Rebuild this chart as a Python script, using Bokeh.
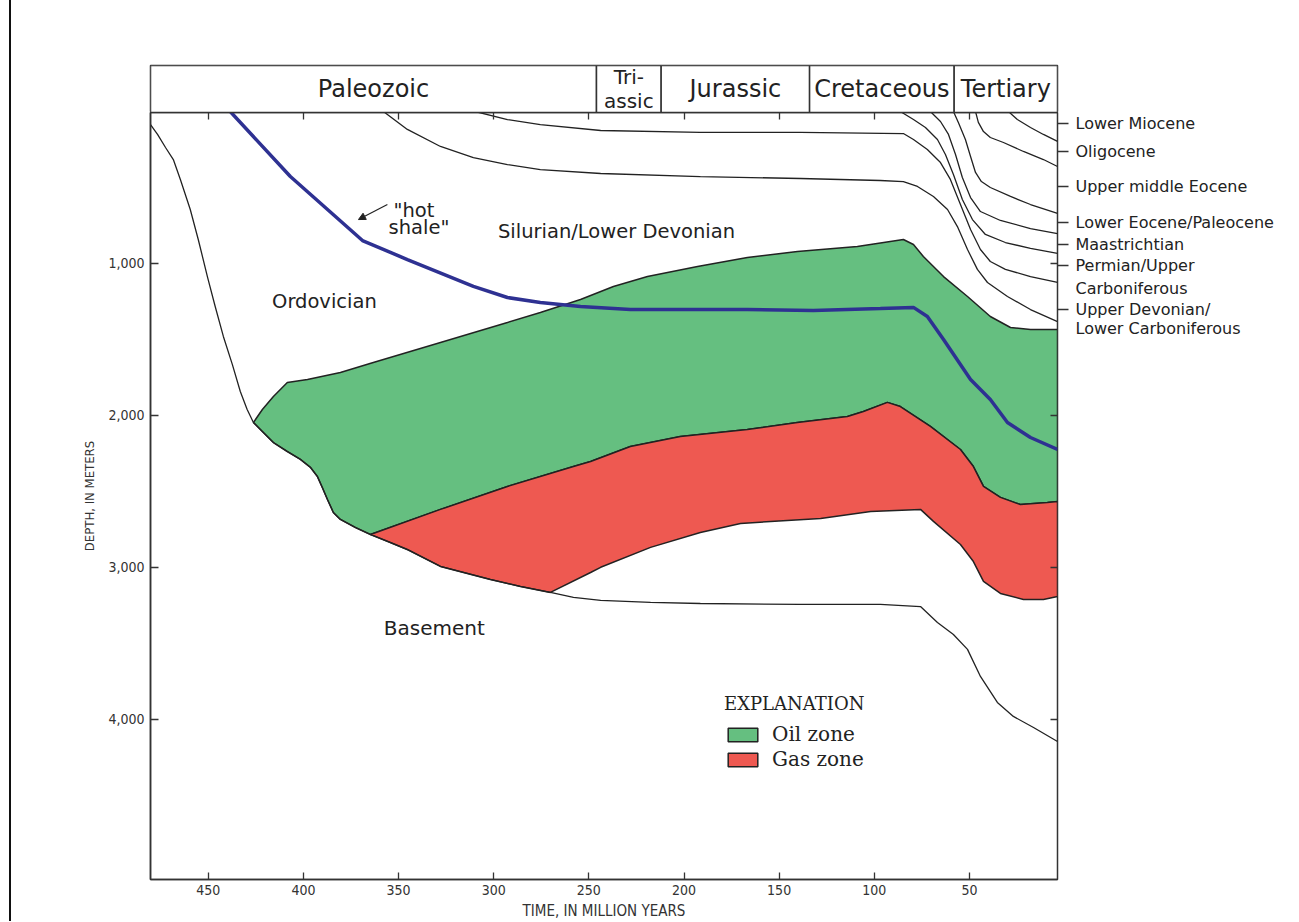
import numpy as np
from bokeh.plotting import figure
from bokeh.models import (Range1d, LinearAxis, FixedTicker, NumeralTickFormatter, Label,
                          Arrow, NormalHead, Legend, LegendItem, Div, CustomJSTickFormatter)
from bokeh.layouts import row, column
from bokeh.embed import file_html
from bokeh.resources import INLINE
from bokeh.core.properties import value

# ---------------- data ----------------
periods = ["Paleozoic", "Tri-\nassic", "Jurassic", "Cretaceous", "Tertiary"]
period_start = [480.4, 246.0, 212.0, 134.0, 58.0]
period_end = [246.0, 212.0, 134.0, 58.0, 3.7]

time_ticks = [450, 400, 350, 300, 250, 200, 150, 100, 50]
depth_ticks = [1000, 2000, 3000, 4000]

horizon_names = ["Lower Miocene", "Oligocene", "Upper middle Eocene", "Lower Eocene/Paleocene",
                 "Maastrichtian", "Permian/Upper", "Upper Devonian/"]
horizon_label_depth = [79, 263, 493, 730, 875, 1013, 1303]
horizon_second_line = ["Carboniferous", "Lower Carboniferous"]
horizon_second_depth = [1164, 1428]

# basement / Ordovician base line, in pieces (time Ma, depth m)
ordovician_base_t = [480.4, 476.7, 472.5, 468.4, 464.7, 459.5, 455.3, 450.5, 446.4, 442.1, 437.4, 433.2, 429.6, 426.3]
ordovician_base_d = [86, 151, 237, 316, 447, 645, 842, 1086, 1283, 1480, 1664, 1842, 1961, 2046]
oil_base_t = [426.3, 421.6, 415.8, 408.5, 401.6, 396.3, 392.7, 390.1, 387.4, 384.3, 380.6, 372.7, 364.8]
oil_base_d = [2046, 2105, 2178, 2237, 2289, 2342, 2401, 2474, 2553, 2638, 2684, 2737, 2783]
gas_base_t = [364.8, 354.3, 345.4, 328.0, 301.8, 286.0, 270.2]
gas_base_d = [2783, 2836, 2882, 2993, 3079, 3125, 3164]
basement_top_t = [270.2, 258.1, 243.8, 217.6, 191.4, 138.8, 96.8, 75.7, 66.8, 58.4, 51.0, 44.2, 35.3, 26.9, 16.3, 3.7]
basement_top_d = [3164, 3197, 3217, 3230, 3237, 3243, 3243, 3257, 3362, 3441, 3539, 3717, 3888, 3980, 4053, 4145]

# top of oil zone
oil_top_t = [426.3, 421.6, 415.8, 408.5, 397.9, 380.6, 363.3, 328.0, 292.8, 275.5, 254.4, 237.1, 219.2,
             192.9, 166.7, 140.4, 108.9, 84.7, 79.4, 74.2, 63.6, 51.0, 39.0, 28.4, 17.9, 3.7]
oil_top_d = [2046, 1961, 1875, 1783, 1763, 1717, 1651, 1520, 1388, 1322, 1237, 1151, 1086,
             1020, 961, 921, 888, 842, 875, 954, 1086, 1217, 1349, 1421, 1434, 1434]
# oil / gas boundary
gas_top_t = [364.8, 328.0, 292.8, 258.1, 249.1, 228.2, 201.9, 166.7, 140.4, 114.1, 105.7, 93.1, 86.3,
             70.5, 54.7, 47.9, 42.6, 33.7, 23.2, 9.0, 3.7]
gas_top_d = [2783, 2618, 2467, 2336, 2303, 2204, 2138, 2092, 2046, 2007, 1974, 1914, 1941,
             2072, 2224, 2336, 2467, 2539, 2586, 2572, 2566]
# bottom of gas zone
gas_bottom_t = [270.2, 249.1, 243.8, 217.6, 191.4, 170.3, 154.5, 128.2, 101.9, 75.7, 68.9, 54.7, 47.9,
                42.6, 33.7, 21.6, 11.1, 3.7]
gas_bottom_d = [3164, 3033, 2999, 2868, 2770, 2711, 2697, 2678, 2632, 2618, 2697, 2849, 2961,
                3092, 3171, 3211, 3211, 3191]

# "hot shale"
hot_shale_t = [438.5, 406.9, 369.0, 345.4, 310.7, 292.8, 275.5, 254.4, 228.2, 166.7, 132.0, 96.8,
               79.4, 72.1, 63.6, 49.4, 39.0, 30.0, 17.9, 3.7]
hot_shale_d = [0, 428, 849, 974, 1151, 1224, 1257, 1283, 1303, 1303, 1309, 1296,
               1289, 1349, 1500, 1763, 1895, 2046, 2145, 2224]

# stratigraphic horizons (thin black lines)
h1_t = [29.5, 24.8, 17.9, 11.1, 3.7]
h1_d = [0, 53, 105, 151, 197]
h2_t = [46.8, 45.3, 42.6, 39.0, 32.1, 21.6, 11.1, 3.7]
h2_d = [0, 72, 132, 171, 204, 263, 316, 362]
h3_t = [58.4, 55.8, 52.1, 49.4, 46.8, 43.7, 39.0, 28.4, 17.9, 3.7]
h3_d = [0, 72, 184, 296, 401, 461, 500, 559, 612, 671]
h4_t = [70.5, 65.2, 61.0, 57.3, 53.7, 49.4, 44.2, 33.7, 17.9, 3.7]
h4_d = [0, 66, 151, 283, 434, 566, 658, 717, 770, 803]
h5_t = [86.3, 79.4, 73.1, 66.8, 62.6, 58.4, 53.7, 48.4, 41.6, 31.1, 17.9, 3.7]
h5_d = [0, 53, 105, 184, 283, 414, 579, 711, 809, 862, 901, 934]
h6_t = [309.7, 292.8, 275.5, 243.8, 191.4, 138.8, 84.7, 79.4, 72.1, 65.2, 60.0, 54.7, 49.4, 44.2, 39.0,
        31.1, 17.9, 3.7]
h6_d = [0, 53, 86, 125, 138, 138, 145, 184, 250, 336, 447, 612, 776, 908, 987, 1039, 1086, 1125]
h7_t = [358.0, 345.4, 328.0, 310.7, 292.8, 275.5, 243.8, 191.4, 138.8, 96.8, 84.7, 77.3, 68.9, 61.5,
        56.3, 51.0, 45.8, 40.5, 30.0, 17.9, 3.7]
h7_d = [0, 118, 230, 303, 349, 382, 408, 428, 441, 454, 461, 493, 559, 645, 757, 908, 1039, 1125,
        1217, 1303, 1382]

# ---------------- styling constants ----------------
INK = "#222222"
AXIS = "#333333"
GREEN = "#65BF80"
RED = "#EE5951"
BLUE = "#2E3192"
SANS = "DejaVu Sans"
NARROW = "DejaVu Sans Condensed, Liberation Sans Narrow, Roboto Condensed, Roboto"
SERIF = "DejaVu Serif"

EDGE_W = 12
LEFT_B = 138
FRAME_W = 907
FRAME_H = 767
RIGHT_B = 12
SIDE_W = 211
BOTTOM_B = 42

x_range = Range1d(480.4, 3.7)
y_range = Range1d(5053, 6.6)

# ---------------- header (geologic periods) ----------------
h = figure(frame_width=FRAME_W, frame_height=47, x_range=x_range, y_range=Range1d(0, 1),
           output_backend="svg", toolbar_location=None,
           x_axis_location=None, y_axis_location=None,
           min_border_left=LEFT_B, min_border_right=RIGHT_B + SIDE_W, min_border_top=65, min_border_bottom=0)
h.grid.visible = False
h.outline_line_color = AXIS
h.outline_line_width = 1.5
h.quad(left=period_start, right=period_end, top=1, bottom=0,
       fill_color="white", line_color=AXIS, line_width=1.5)
mid = [(a + b) / 2 for a, b in zip(period_start, period_end)]
one_line = [i for i, n in enumerate(periods) if "\n" not in n]
two_line = [i for i, n in enumerate(periods) if "\n" in n]
h.text(x=[mid[i] for i in one_line], y=[0.5] * len(one_line), text=[periods[i] for i in one_line],
       text_font=value(SANS), text_font_size="24px", text_color=INK,
       text_align="center", text_baseline="middle")
h.text(x=[mid[i] for i in two_line], y=[0.5] * len(two_line), text=[periods[i] for i in two_line],
       text_font=value(SANS), text_font_size="20px", text_color=INK,
       text_align="center", text_baseline="middle", text_line_height=1.0)

# ---------------- main chart ----------------
p = figure(frame_width=FRAME_W, frame_height=FRAME_H, x_range=x_range, y_range=y_range,
           output_backend="svg", toolbar_location=None,
           x_axis_location=None, y_axis_location=None,
           min_border_left=LEFT_B, min_border_right=RIGHT_B, min_border_top=0, min_border_bottom=BOTTOM_B)
p.grid.visible = False
p.outline_line_color = AXIS
p.outline_line_width = 1.5

# zones
oil_x = np.concatenate([oil_top_t, gas_top_t[::-1], oil_base_t[::-1]])
oil_y = np.concatenate([oil_top_d, gas_top_d[::-1], oil_base_d[::-1]])
gas_x = np.concatenate([gas_top_t, gas_bottom_t[::-1], gas_base_t[::-1]])
gas_y = np.concatenate([gas_top_d, gas_bottom_d[::-1], gas_base_d[::-1]])
oil_r = p.patch(oil_x, oil_y, fill_color=GREEN, line_color=INK, line_width=1.5)
gas_r = p.patch(gas_x, gas_y, fill_color=RED, line_color=INK, line_width=1.5)

# basement line
base_x = ordovician_base_t + oil_base_t[1:] + gas_base_t[1:] + basement_top_t[1:]
base_y = ordovician_base_d + oil_base_d[1:] + gas_base_d[1:] + basement_top_d[1:]
p.line(base_x, base_y, line_color=INK, line_width=1.3)
for tx, dy in [(h1_t, h1_d), (h2_t, h2_d), (h3_t, h3_d), (h4_t, h4_d), (h5_t, h5_d),
               (h6_t, h6_d), (h7_t, h7_d)]:
    p.line(tx, dy, line_color=INK, line_width=1.3)
p.line(hot_shale_t, hot_shale_d, line_color=BLUE, line_width=3.5)

# axes
def style_ticks(ax, tin, tout):
    ax.major_tick_in = tin
    ax.major_tick_out = tout
    ax.minor_tick_line_color = None
    ax.major_tick_line_color = AXIS
    ax.major_tick_line_width = 1.3
    ax.axis_line_color = AXIS
    ax.axis_line_width = 1.5

blank = CustomJSTickFormatter(code="return ''")

xb = LinearAxis(ticker=FixedTicker(ticks=time_ticks), axis_label="TIME, IN MILLION YEARS")
style_ticks(xb, 7, 0)
xb.major_label_text_font = NARROW
xb.major_label_text_font_size = "14px"
xb.major_label_text_color = AXIS
xb.major_label_standoff = 5
xb.axis_label_text_font = NARROW
xb.axis_label_text_font_size = "15px"
xb.axis_label_text_font_style = "normal"
xb.axis_label_text_color = AXIS
xb.axis_label_standoff = 4
p.add_layout(xb, "below")

xt = LinearAxis(ticker=FixedTicker(ticks=time_ticks), formatter=blank)
style_ticks(xt, 7, 0)
xt.major_label_text_font_size = "0px"
xt.major_label_standoff = 0
p.add_layout(xt, "above")

yl = LinearAxis(ticker=FixedTicker(ticks=depth_ticks), formatter=NumeralTickFormatter(format="0,0"),
                axis_label="DEPTH, IN METERS")
style_ticks(yl, 8, 0)
yl.major_label_text_font = NARROW
yl.major_label_text_font_size = "14px"
yl.major_label_text_color = AXIS
yl.major_label_standoff = 6
yl.axis_label_text_font = NARROW
yl.axis_label_text_font_size = "13px"
yl.axis_label_text_font_style = "normal"
yl.axis_label_text_color = AXIS
yl.axis_label_standoff = 8
p.add_layout(yl, "left")

yr_in = LinearAxis(ticker=FixedTicker(ticks=depth_ticks), formatter=blank)
style_ticks(yr_in, 7, 0)
yr_in.axis_line_color = None
yr_in.major_label_text_font_size = "0px"
yr_in.major_label_standoff = 0
p.add_layout(yr_in, "right")

yr = LinearAxis(ticker=FixedTicker(ticks=horizon_label_depth), formatter=blank)
style_ticks(yr, 0, 11)
yr.axis_line_color = None
yr.major_label_text_font_size = "0px"
yr.major_label_standoff = 0
p.add_layout(yr, "right")

# region labels
def region_label(x, y, txt, size="19.5px", align="center", baseline="middle"):
    p.add_layout(Label(x=x, y=y, text=txt, text_align=align, text_baseline=baseline,
                       text_font=SANS, text_font_size=size, text_color=INK))

region_label(235.5, 789, "Silurian/Lower Devonian")
region_label(389.0, 1250, "Ordovician")
region_label(331.2, 3395, "Basement", size="20px")
region_label(352.7, 651, '"hot', align="left", baseline="alphabetic")
region_label(355.3, 765, 'shale"', align="left", baseline="alphabetic")
p.add_layout(Arrow(end=NormalHead(size=7, fill_color=INK, line_color=INK, line_width=1),
                   x_start=355.9, y_start=612, x_end=371.1, y_end=711,
                   line_color=INK, line_width=1.2))

# legend
legend = Legend(items=[LegendItem(label="Oil zone", renderers=[oil_r]),
                       LegendItem(label="Gas zone", renderers=[gas_r])],
                title="EXPLANATION", location=(574, 108), orientation="vertical",
                title_text_font=SERIF, title_text_font_size="18px", title_text_font_style="normal",
                title_text_color=INK, title_standoff=8,
                label_text_font=SERIF, label_text_font_size="20px", label_text_color=INK,
                glyph_width=37, glyph_height=17, label_standoff=11, spacing=1,
                padding=0, margin=0, border_line_color=None, background_fill_alpha=0)
p.add_layout(legend)

# ---------------- right-hand horizon names ----------------
side = figure(frame_width=SIDE_W, frame_height=FRAME_H, x_range=Range1d(0, 1), y_range=y_range,
              output_backend="svg", toolbar_location=None,
              x_axis_location=None, y_axis_location=None,
              min_border_left=0, min_border_right=0, min_border_top=0, min_border_bottom=BOTTOM_B)
side.grid.visible = False
side.outline_line_color = None
side.text(x=[0] * len(horizon_names), y=horizon_label_depth, text=horizon_names,
          text_font=value(SANS), text_font_size="16px", text_color=INK,
          text_align="left", text_baseline="middle", x_offset=6)
side.text(x=[0] * len(horizon_second_line), y=horizon_second_depth, text=horizon_second_line,
          text_font=value(SANS), text_font_size="16px", text_color=INK,
          text_align="left", text_baseline="middle", x_offset=6)

# thin page rule at the far left, as in the reference
edge = Div(width=EDGE_W, height=921, margin=0,
           text='<div style="margin-left:9px;border-left:2px solid #111;height:921px"></div>')
layout = row(edge, column(h, row(p, side, spacing=0), spacing=0), spacing=0)

open("out.html", "w").write(file_html(layout, INLINE))
